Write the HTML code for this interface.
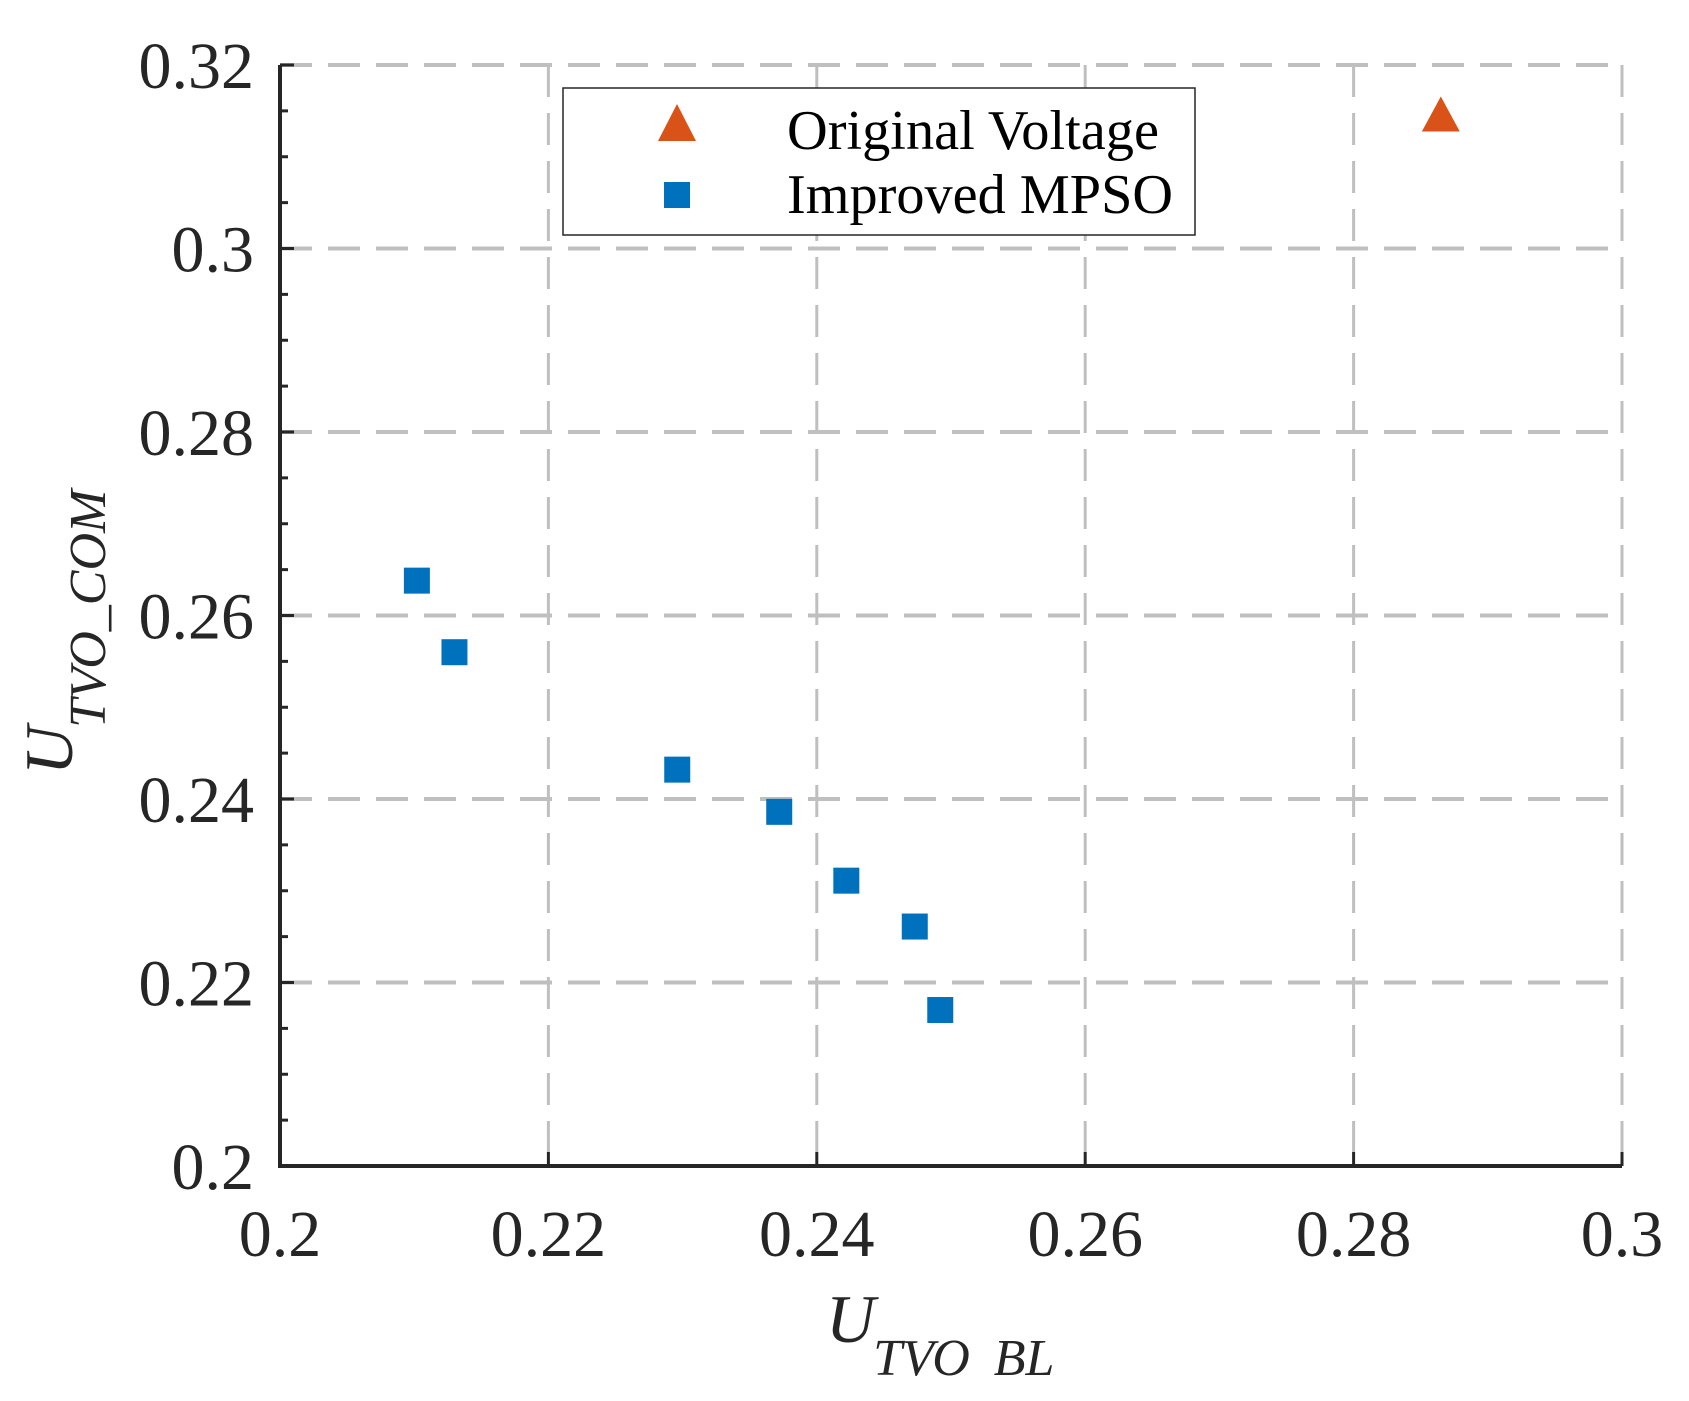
<!DOCTYPE html>
<html><head><meta charset="utf-8"><style>
html,body{margin:0;padding:0;background:#fff;}
svg{display:block;font-family:"Liberation Serif",serif;}
</style></head><body>
<svg id="chart" width="1689" height="1401" viewBox="0 0 1689 1401">
<g id="grid"></g>
<g id="axes"></g>
<g id="marks"></g>
<g id="legend">
  <rect x="563" y="88" width="632" height="147" fill="#fff" stroke="#262626" stroke-width="1.5"/>
  <polygon points="677,104 696,141 658,141" fill="#D95319"/>
  <text x="787" y="149" font-size="56" textLength="372" lengthAdjust="spacingAndGlyphs" fill="#000">Original Voltage</text>
  <rect x="664" y="182" width="26" height="26" fill="#0072BD"/>
  <text x="787" y="213" font-size="56" textLength="386" lengthAdjust="spacingAndGlyphs" fill="#000">Improved MPSO</text>
</g>
<text x="826" y="1342" font-size="68" font-style="italic" fill="#262626">U<tspan font-size="52" dy="33" dx="-2">TVO</tspan><tspan font-size="52" dx="24">BL</tspan></text>
<text transform="translate(72,775) rotate(-90)" font-size="68" font-style="italic" fill="#262626">U<tspan font-size="52" dy="33" dx="-2">TVO_COM</tspan></text>
</svg>
<script>
const xTicks=[0.2,0.22,0.24,0.26,0.28,0.3];
const xTickLabels=["0.2","0.22","0.24","0.26","0.28","0.3"];
const yTicks=[0.2,0.22,0.24,0.26,0.28,0.3,0.32];
const yTickLabels=["0.2","0.22","0.24","0.26","0.28","0.3","0.32"];
const mpsoX=[0.2102,0.2130,0.2296,0.2372,0.2422,0.2473,0.2492];
const mpsoY=[0.2638,0.2560,0.2432,0.2386,0.2311,0.2261,0.2170];
const origX=[0.2865];
const origY=[0.3146];
const L=280,R=1622,T=65,B=1166;
function sx(v){return L+(v-0.2)/0.1*(R-L);}
function sy(v){return B-(v-0.2)/0.12*(B-T);}
const NS="http://www.w3.org/2000/svg";
function mk(tag,attrs,parent){const e=document.createElementNS(NS,tag);for(const k in attrs)e.setAttribute(k,attrs[k]);parent.appendChild(e);return e;}
const grid=document.getElementById('grid'),axes=document.getElementById('axes'),marks=document.getElementById('marks');
xTicks.forEach((v,i)=>{
  if(i>0){const g=mk('line',{x1:sx(v),x2:sx(v),y1:T,y2:B,stroke:'#bfbfbf','stroke-width':3,'stroke-dasharray':'32,16'},grid);
  
  }
  const t=mk('line',{x1:sx(v),x2:sx(v),y1:B,y2:B-14,stroke:'#262626','stroke-width':3},axes);
  
  
  const l=mk('text',{x:sx(v),y:1256,'font-size':66,'text-anchor':'middle',fill:'#262626'},axes);
  l.textContent=xTickLabels[i];
  
  
});
yTicks.forEach((v,i)=>{
  if(i>0){const g=mk('line',{x1:L,x2:R,y1:sy(v),y2:sy(v),stroke:'#bfbfbf','stroke-width':4,'stroke-dasharray':'32,16'},grid);
  
  }
  const t=mk('line',{x1:L,x2:L+14,y1:sy(v),y2:sy(v),stroke:'#262626','stroke-width':3},axes);
  
  
  const l=mk('text',{x:254,y:sy(v)+23,'font-size':66,'text-anchor':'end',fill:'#262626'},axes);
  l.textContent=yTickLabels[i];
  
  
});
for(let v=0.205;v<0.32;v+=0.005){
  if(Math.abs((v-0.2)/0.02-Math.round((v-0.2)/0.02))<1e-6)continue;
  const t=mk('line',{x1:L,x2:L+8,y1:sy(v),y2:sy(v),stroke:'#262626','stroke-width':3},axes);
  
  
}
const ax=mk('path',{d:`M${L},${T} V${B} H${R}`,fill:'none',stroke:'#262626','stroke-width':4},axes);


mpsoX.forEach((v,i)=>{
  const r=mk('rect',{x:sx(v)-13,y:sy(mpsoY[i])-13,width:26,height:26,fill:'#0072BD'},marks);
  
  
});
origX.forEach((v,i)=>{
  const cx=sx(v),cy=sy(origY[i]);
  const p=mk('polygon',{points:`${cx},${cy-18} ${cx+19},${cy+17} ${cx-19},${cy+17}`,fill:'#D95319'},marks);
  
  
});
</script>
</body></html>
